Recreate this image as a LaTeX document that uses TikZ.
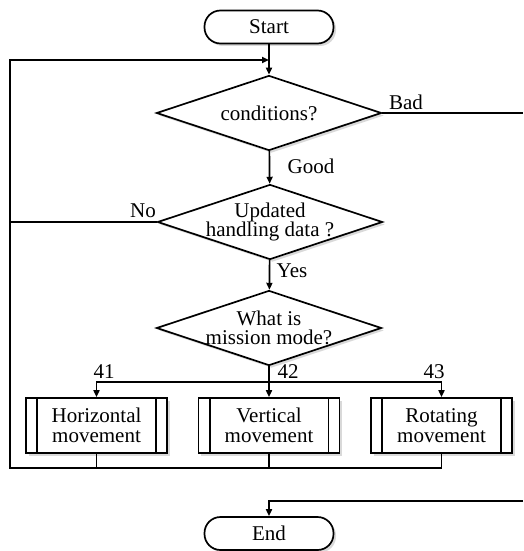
\documentclass[tikz,border=0pt]{standalone}
\usepackage{fontspec}
\setmainfont{Liberation Serif}
\usetikzlibrary{shapes.geometric,shadows,arrows.meta}
\begin{document}
\begin{tikzpicture}[x=1pt,y=-1pt,
  line width=1.7pt,
  shd/.style={drop shadow={shadow xshift=2.5pt,shadow yshift=-2.5pt,fill=black,opacity=0.15}},
  txt/.style={font=\fontsize{21}{19.5}\selectfont, align=center, inner sep=0pt},
  term/.style={draw, rounded corners=16pt, minimum width=129pt, minimum height=33pt, fill=white, shd, txt},
  dec/.style={draw, diamond, minimum width=225pt, minimum height=75pt, inner sep=0pt, fill=white, shd},
  subbox/.style={draw, minimum width=141pt, minimum height=55pt, fill=white, shd, txt},
  arr/.style={-{Triangle[length=7pt,width=6pt]}}
]
\useasboundingbox (0,0) rectangle (523,551);

\node[term] (start) at (269,27) {Start};
\node[dec] (d1) at (269,113) {};
\node[txt] (d1t) at (269,113) {conditions?};
\node[dec] (d2) at (270,222) {};
\node[txt] (d2t) at (270,222) {Updated\\handling data ?};
\node[dec] (d3) at (269,328) {};
\node[txt] (d3t) at (269,328) {What is\\mission mode?};
\node[subbox] (b1) at (96.5,425.5) {Horizontal\\movement};
\node[subbox] (b2) at (269,425.5) {Vertical\\movement};
\node[subbox] (b3) at (441.5,425.5) {Rotating\\movement};
\node[term] (end) at (269,533.5) {End};

\foreach \b in {b1,b2,b3}{
  \draw ([xshift=12pt]\b.north west) -- ([xshift=12pt]\b.south west);
  \draw ([xshift=-12pt]\b.north east) -- ([xshift=-12pt]\b.south east);
}

\coordinate (lb) at (10,468);
\coordinate (jt) at (269,60);
\coordinate (rb) at (523,113);
\coordinate (re) at (523,501);
\coordinate (br) at (269,382);

\draw[arr] (start) -- (d1);
\draw[arr] (d1) -- (d2);
\draw[arr] (d2) -- (d3);
\draw[arr] (d3) -- (b2);
\draw[arr] (br) -| (b1.north);
\draw[arr] (br) -| (b3.north);
\draw (d1.east) -- (rb);
\draw[arr] (re) -| (end.north);
\draw[arr] (b3.south) |- (lb) |- (jt);
\draw (b1.south) -- (b1.south |- lb);
\draw (b2.south) -- (b2.south |- lb);
\draw (d2.west) -- (d2.west -| lb);

\node[txt] (lbad) at (406,102) {Bad};
\node[txt] (lgood) at (311,166) {Good};
\node[txt] (lno) at (143,211) {No};
\node[txt] (lyes) at (292,271) {Yes};
\node[txt] (l41) at (104,372) {41};
\node[txt] (l42) at (288,372) {42};
\node[txt] (l43) at (434,372) {43};
\end{tikzpicture}
\end{document}
